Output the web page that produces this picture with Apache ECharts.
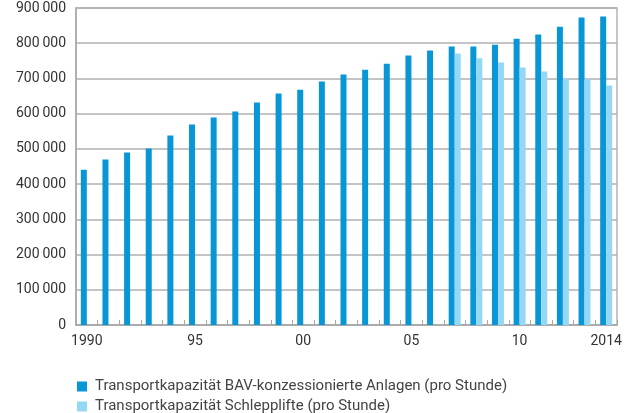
<!DOCTYPE html>
<html>
<head>
<meta charset="utf-8">
<script src="https://cdn.jsdelivr.net/npm/echarts@6/dist/echarts.min.js"></script>
<style>
html,body{margin:0;padding:0;background:#fff;}
#main{width:633px;height:413px;}
</style>
</head>
<body>
<div id="main"></div>
<script>
// Jahre 1990-2014
var years = ['1990','1991','1992','1993','1994','1995','1996','1997','1998','1999','2000','2001','2002',
	'2003','2004','2005','2006','2007','2008','2009','2010','2011','2012','2013','2014'];
var yearLabels = {'1990':'1990','1995':'95','2000':'00','2005':'05','2010':'10','2014':'2014'};
// BAV-konzessionierte Anlagen
var bavValues = [441000,470000,490000,501000,538000,569000,589000,606000,632000,657000,668000,691000,711000,
	725000,742000,765000,779000,791000,791000,796000,813000,825000,847000,873000,876000];
// Schlepplifte (erst ab 2007)
var liftValues = [null,null,null,null,null,null,null,null,null,null,null,null,null,
	null,null,null,null,771000,757000,745000,731000,720000,700000,698000,680000];
var seriesNames = ['Transportkapazität BAV-konzessionierte Anlagen (pro Stunde)','Transportkapazität Schlepplifte (pro Stunde)'];

var chart = echarts.init(document.getElementById('main'));
var font = 'Roboto';
function legendItem(name,top){
	return {
		left:72,top:top,itemWidth:10,itemHeight:10,icon:'rect',
		textStyle:{fontSize:15,color:'#444',fontFamily:font,padding:[0,0,0,3]},
		data:[name]
	};
}
var option = {
	animation:false,
	textStyle:{fontFamily:font},
	grid:{left:76,right:16,top:8,bottom:88,show:true,borderColor:'#b4b4b4',borderWidth:1.5},
	legend:[legendItem(seriesNames[0],374),legendItem(seriesNames[1],394)],
	xAxis:{
		type:'category',
		data:years,
		axisLine:{lineStyle:{color:'#a8a8a8',width:1.5}},
		axisTick:{show:true,inside:true,length:5,interval:0,lineStyle:{color:'#a8a8a8'}},
		axisLabel:{
			interval:function(i){return i%5===0||i===years.length-1;},
			formatter:function(v){return yearLabels[v]||'';},
			color:'#333',fontSize:14,margin:9
		}
	},
	yAxis:{
		type:'value',min:0,max:900000,interval:100000,
		axisLine:{show:true,lineStyle:{color:'#a8a8a8',width:1.5}},
		axisTick:{show:false},
		splitLine:{lineStyle:{color:'#b0b0b0',width:1.5}},
		axisLabel:{
			color:'#333',fontSize:14,margin:10,
			formatter:function(v){
				if(v===0){return '0';}
				return Math.floor(v/1000)+'\u2009000';
			}
		}
	},
	series:[
		{name:seriesNames[0],type:'bar',data:bavValues,barWidth:6,barGap:'0%',itemStyle:{color:'#0996d7'}},
		{name:seriesNames[1],type:'bar',data:liftValues,barWidth:6,barGap:'0%',itemStyle:{color:'#95d8f6'}}
	]
};
chart.setOption(option);
</script>
</body>
</html>
